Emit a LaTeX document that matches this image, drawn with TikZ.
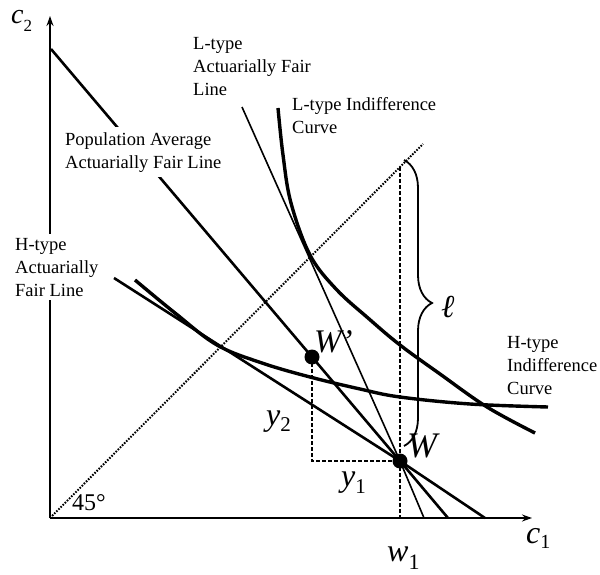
\documentclass[tikz,border=0pt]{standalone}
\usepackage{fontspec}
\setmainfont{Liberation Serif}
\usetikzlibrary{arrows.meta,decorations.pathreplacing}
\begin{document}
\begin{tikzpicture}[x=1pt,y=-1pt,
  axis/.style={line width=2pt,-{Stealth[length=10pt,width=7pt]}},
  fairline/.style={line width=2.6pt},
  thinfair/.style={line width=1.6pt},
  icurve/.style={line width=3.4pt,line join=round},
  guide/.style={line width=1.5pt,dash pattern=on 4pt off 2pt},
  diag/.style={line width=2pt,dash pattern=on 1.6pt off 1.4pt},
  lbl/.style={font=\fontsize{18.5}{23}\selectfont,align=left,anchor=base west,inner sep=0pt},
  dotpt/.style={circle,fill=black,inner sep=0pt,minimum size=15pt},
  mlab/.style={inner sep=0pt,anchor=base west}
]
\fill[white] (0,0) rectangle (600,575);
\useasboundingbox (0,0) rectangle (600,575);

% key points
\coordinate (O) at (50,518);
\coordinate (Ytop) at (50,16);
\coordinate (Xend) at (532,518);
\coordinate (D45) at (423,144);
\coordinate (W) at (400,461);
\coordinate (Wp) at (312,357);
\coordinate (Wtop) at (400,167);
\coordinate (W1) at (400,518);
\coordinate (P0) at (51,49);
\coordinate (P1) at (448,518);
\coordinate (Hs) at (114,278);
\coordinate (He) at (485,518);
\coordinate (Ls) at (242,107);
\coordinate (Le) at (424,518);

% axes and 45 degree line
\draw[axis] (O) -- (Ytop);
\draw[axis] (O) -- (Xend);
\draw[diag] (O) -- (D45);

% dashed guides
\draw[guide] (Wtop) -- (W1);
\draw[guide] (Wp) -- (Wp |- W) -- (W);

% actuarially fair lines
\draw[fairline] (P0) -- (Wp) -- (W) -- (P1);
\draw[fairline] (Hs) -- (W) -- (He);
\draw[thinfair] (Ls) -- (W) -- (Le);

% indifference curves
\draw[icurve] plot[smooth,tension=0.6] coordinates {(278,108) (283,155) (291,203) (310,255) (336,289) (368,318) (400,345) (440,374) (487,407) (535,433)};
\draw[icurve] plot[smooth,tension=0.6] coordinates {(135,280) (175,313) (217,345) (262,363) (310,377) (360,389) (400,397) (470,404) (548,407)};

% brace for loss
\draw[line width=1.8pt,decorate,decoration={brace,amplitude=28pt,aspect=0.5}] (404,160) -- (404,446);

% points
\node[dotpt] (Wdot) at (W) {};
\node[dotpt] (Wpdot) at (Wp) {};

% text labels (anchor = baseline of last line)
\node[lbl] (lfair) at (193,96) {L-type\\Actuarially Fair\\Line};
\node[lbl] (lic) at (292,134) {L-type Indifference\\Curve};
\node[lbl,fill=white,inner sep=5pt] (pavg) at (60,168) {Population Average\\Actuarially Fair Line};
\node[lbl,fill=white,inner sep=4pt] (hfair) at (11,296) {H-type\\Actuarially\\Fair Line};
\node[lbl] (hic) at (507,394) {H-type\\Indifference\\Curve};

% math-like labels
\node[mlab,font=\fontsize{28}{28}\selectfont] (c2) at (11,24) {\textit{c}\raisebox{-8pt}{\fontsize{17}{17}\selectfont 2}};
\node[mlab,font=\fontsize{32}{32}\selectfont] (c1) at (526,543) {\textit{c}\raisebox{-5pt}{\fontsize{20}{20}\selectfont 1}};
\node[mlab,font=\fontsize{32}{32}\selectfont] (w1) at (387,561) {\textit{w}\raisebox{-8pt}{\fontsize{22}{22}\selectfont 1}};
\node[mlab,font=\fontsize{36}{36}\selectfont] (Wlab) at (407,457) {\textit{W}};
\node[mlab,font=\fontsize{33}{33}\selectfont] (Wplab) at (314,352) {\textit{W’}};
\node[mlab,font=\fontsize{32}{32}\selectfont] (y2) at (266,425) {\textit{y}\raisebox{-6pt}{\fontsize{21}{21}\selectfont 2}};
\node[mlab,font=\fontsize{32}{32}\selectfont] (y1) at (341,486) {\textit{y}\raisebox{-7pt}{\fontsize{21}{21}\selectfont 1}};
\node[mlab,font=\fontsize{32}{32}\selectfont] (ell) at (441,317) {\textit{ℓ}};
\node[mlab,font=\fontsize{24}{24}\selectfont] (deg) at (72,510) {45\textdegree};
\end{tikzpicture}
\end{document}
